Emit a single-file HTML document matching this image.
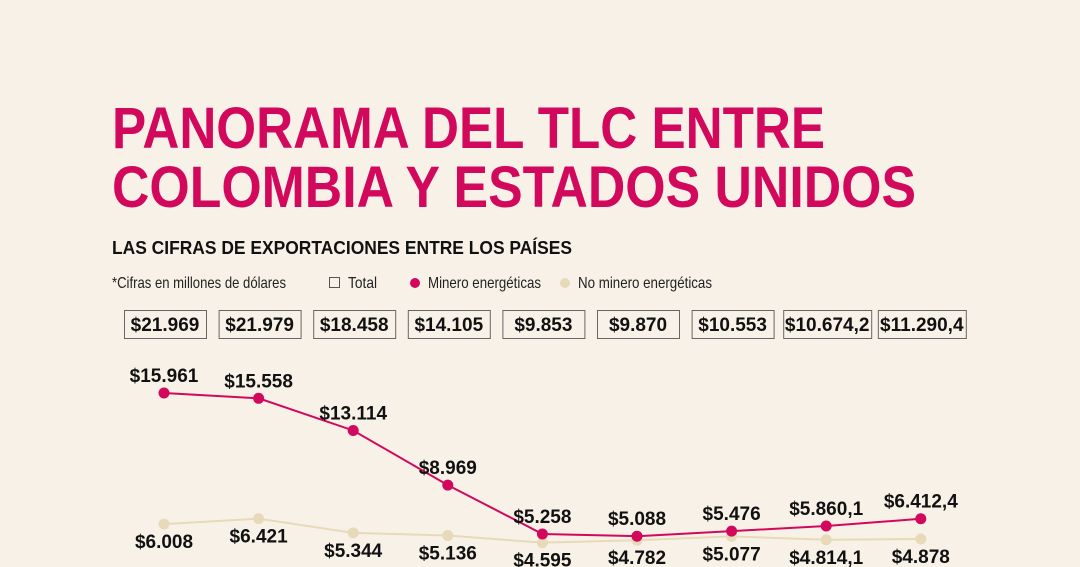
<!DOCTYPE html>
<html><head><meta charset="utf-8"><style>
html,body{margin:0;padding:0;background:#f8f1e8;}
svg{display:block;font-family:"Liberation Sans",sans-serif;}
</style></head><body>
<svg id="chart" width="1080" height="567" viewBox="0 0 1080 567" xmlns="http://www.w3.org/2000/svg">
<rect width="1080" height="567" fill="#f8f1e8"/>
<text x="112" y="148" font-size="58" font-weight="bold" fill="#d2085c" textLength="713" lengthAdjust="spacingAndGlyphs">PANORAMA DEL TLC ENTRE</text>
<text x="112" y="207" font-size="58" font-weight="bold" fill="#d2085c" textLength="804" lengthAdjust="spacingAndGlyphs">COLOMBIA Y ESTADOS UNIDOS</text>
<text x="112" y="254" font-size="18" font-weight="bold" fill="#111" textLength="460" lengthAdjust="spacingAndGlyphs">LAS CIFRAS DE EXPORTACIONES ENTRE LOS PAÍSES</text>
<text x="112" y="288" font-size="16" fill="#222" textLength="174" lengthAdjust="spacingAndGlyphs">*Cifras en millones de dólares</text>
<g>
<rect x="329.5" y="277.5" width="10" height="10" fill="none" stroke="#555"/>
<text x="348" y="288" font-size="16" fill="#222" textLength="29" lengthAdjust="spacingAndGlyphs">Total</text></g>
<g>
<circle cx="415" cy="283" r="5" fill="#d2085c"/>
<text x="428" y="288" font-size="16" fill="#222" textLength="113" lengthAdjust="spacingAndGlyphs">Minero energéticas</text></g>
<g>
<circle cx="565" cy="283" r="5" fill="#e8dab8"/>
<text x="578" y="288" font-size="16" fill="#222" textLength="134" lengthAdjust="spacingAndGlyphs">No minero energéticas</text></g>
<g id="marks"></g>
</svg>
<script>
const totalLabels = ["$21.969","$21.979","$18.458","$14.105","$9.853","$9.870","$10.553","$10.674,2","$11.290,4"];
const mineroValues = [15961,15558,13114,8969,5258,5088,5476,5860.1,6412.4];
const mineroLabels = ["$15.961","$15.558","$13.114","$8.969","$5.258","$5.088","$5.476","$5.860,1","$6.412,4"];
const noMineroValues = [6008,6421,5344,5136,4595,4782,5077,4814.1,4878];
const noMineroLabels = ["$6.008","$6.421","$5.344","$5.136","$4.595","$4.782","$5.077","$4.814,1","$4.878"];

const NS = "http://www.w3.org/2000/svg";
const g = document.getElementById('marks');
const xs = i => 164 + i * 94.6;
const ys = v => 603.2 - v * 0.01317;
function mk(tag, attrs, parent){const e=document.createElementNS(NS,tag);for(const k in attrs)e.setAttribute(k,attrs[k]);(parent||g).appendChild(e);return e;}

// total boxes
totalLabels.forEach((t,i)=>{
  const w = t.length > 7 ? 88 : 82;
  const bg = mk('g',{});
  
  
  mk('rect',{x:xs(i)-w/2+0.5+1,y:310.5,width:w,height:28,fill:'none',stroke:'#666','stroke-width':1},bg);
  const tx = mk('text',{x:xs(i)+1,y:331,'font-size':19,'font-weight':'bold','text-anchor':'middle',fill:'#111'},bg);
  tx.textContent = t;
});

function series(vals, labels, color, name, above){
  const pts = vals.map((v,i)=>xs(i)+','+ys(v)).join(' ');
  const pl = mk('polyline',{points:pts,fill:'none',stroke:color,'stroke-width':2});
  
  
  vals.forEach((v,i)=>{
    const c = mk('circle',{cx:xs(i),cy:ys(v),r:5.5,fill:color});
    
    
    const t = mk('text',{x:xs(i),y:above?ys(v)-11:ys(v)+24,'font-size':19,'font-weight':'bold','text-anchor':'middle',fill:'#111'});
    
    
    t.textContent = labels[i];
  });
}
series(noMineroValues, noMineroLabels, '#e8dab8', 'no-minero', false);
series(mineroValues, mineroLabels, '#d2085c', 'minero', true);
</script>
</body></html>
